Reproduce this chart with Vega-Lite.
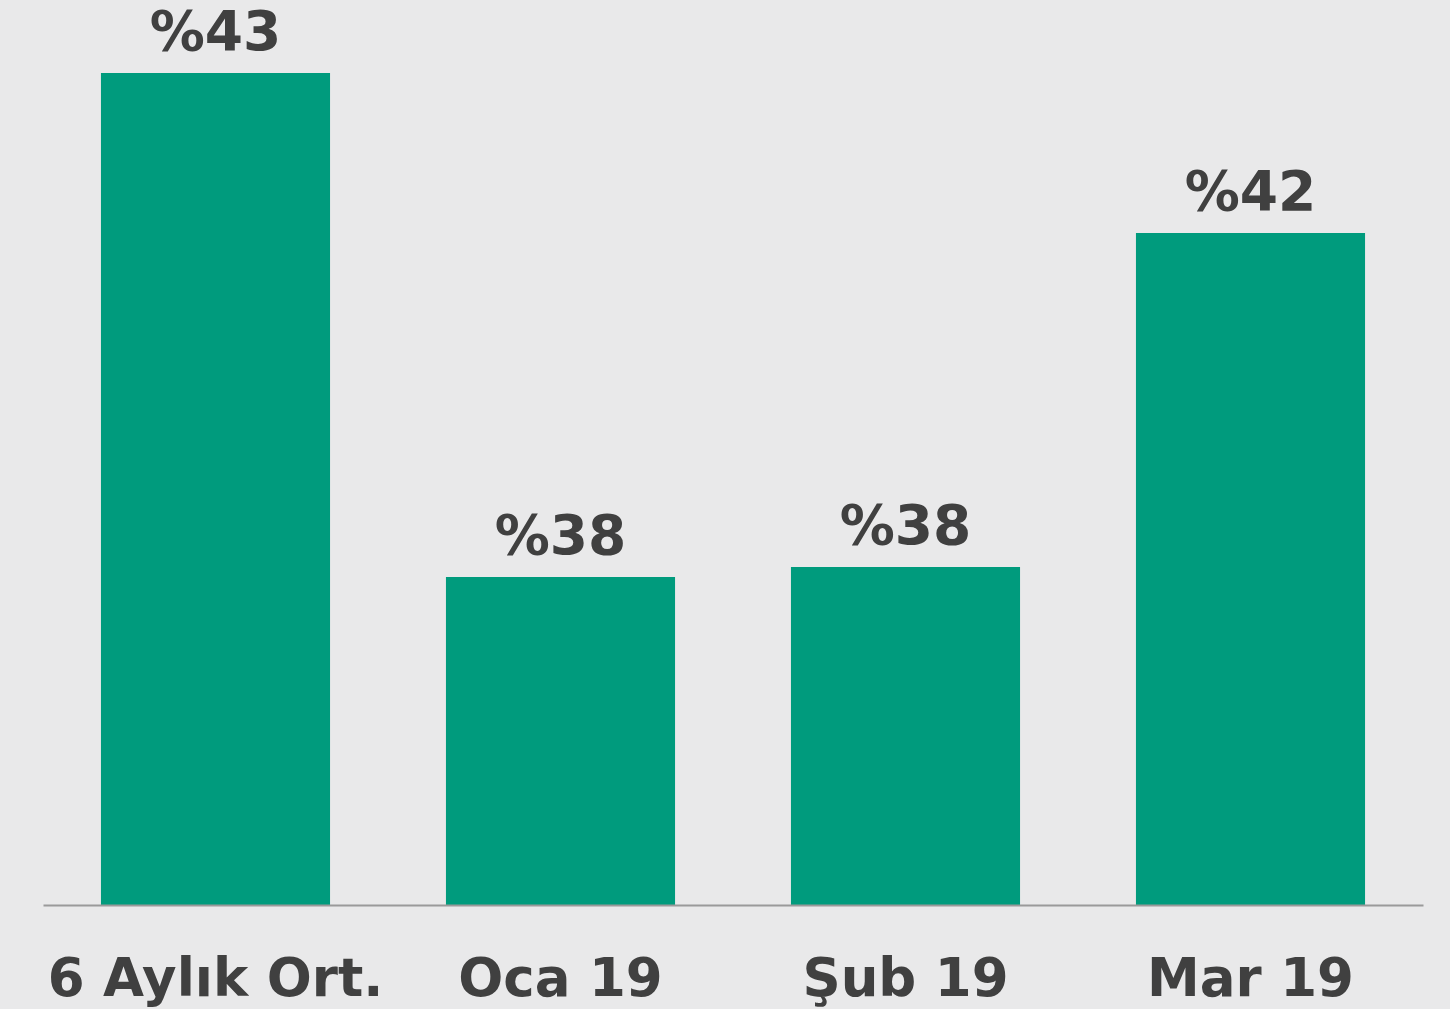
{
  "$schema": "https://vega.github.io/schema/vega-lite/v6.json",
  "autosize": {"type": "none"},
  "width": 1380,
  "height": 900,
  "padding": {"left": 43, "top": 5, "right": 27, "bottom": 104},
  "background": "#e9e9ea",
  "config": {"view": {"stroke": null}},
  "data": {
    "values": [
      {"period": "6 Aylık Ort.", "value": 43.32, "label": "%43"},
      {"period": "Oca 19", "value": 38.28, "label": "%38"},
      {"period": "Şub 19", "value": 38.38, "label": "%38"},
      {"period": "Mar 19", "value": 41.72, "label": "%42"}
    ]
  },
  "encoding": {
    "x": {
      "field": "period",
      "type": "nominal",
      "sort": null,
      "scale": {"paddingInner": 0.336, "paddingOuter": 0.168},
      "axis": {
        "title": null,
        "labelAngle": 0,
        "ticks": false,
        "tickSize": 0,
        "labelFont": "DejaVu Sans",
        "labelFontWeight": "bold",
        "labelFontSize": 53,
        "labelColor": "#404040",
        "labelBaseline": "alphabetic",
        "labelPadding": 90,
        "labelLimit": 0,
        "labelOverlap": false,
        "domainColor": "#9a9a9a",
        "domainWidth": 2,
        "grid": false,
        "zindex": 1
      }
    },
    "y": {
      "field": "value",
      "type": "quantitative",
      "scale": {"domain": [35, 44], "zero": false, "nice": false},
      "axis": null
    }
  },
  "layer": [
    {
      "mark": {"type": "bar", "color": "#009b7d"},
      "encoding": {"y2": {"datum": 35}}
    },
    {
      "mark": {
        "type": "text",
        "baseline": "alphabetic",
        "dy": -23,
        "font": "DejaVu Sans",
        "fontWeight": "bold",
        "fontSize": 55,
        "color": "#404040"
      },
      "encoding": {"text": {"field": "label"}}
    }
  ]
}
